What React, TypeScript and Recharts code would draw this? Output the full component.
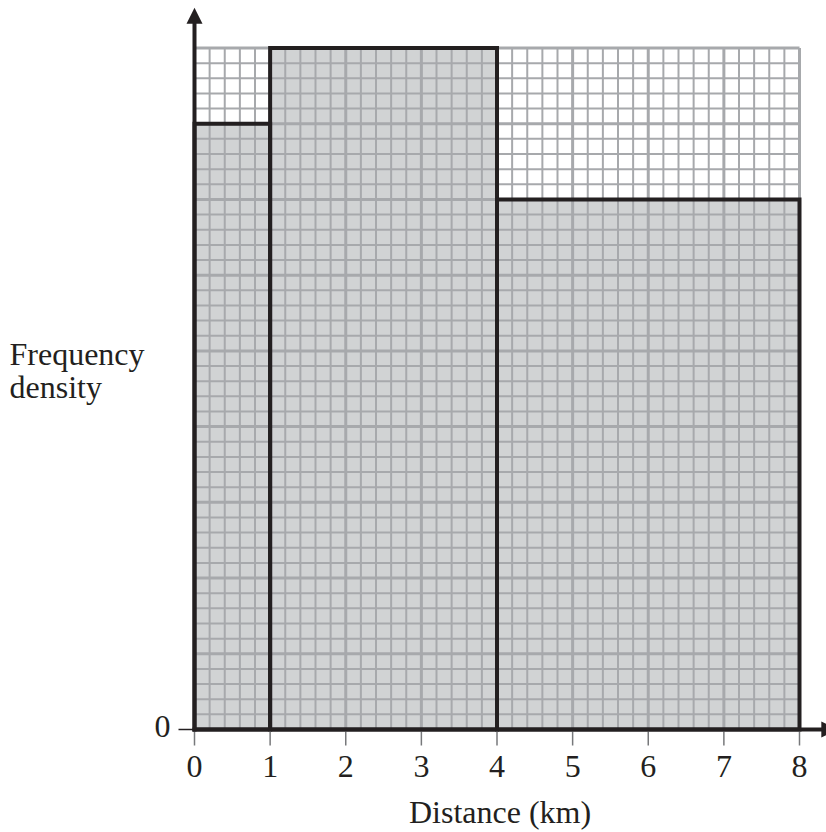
import React from "react";
import {
	ComposedChart,
	XAxis,
	YAxis,
	ReferenceArea,
	ReferenceLine,
} from "recharts";

// histogram classes (km) and their frequency densities
const classStarts = [0, 1, 4];
const classEnds = [1, 4, 8];
const densities = [8, 9, 7];

const xTicks = [0, 1, 2, 3, 4, 5, 6, 7, 8];
const yTicks = [0];
const xDomain = [0, 8];
const yDomain = [0, 9];
const xTitle = "Distance (km)";
const yTitleLines = ["Frequency", "density"];

const FONT = "'Liberation Serif', 'Times New Roman', serif";
const INK = "#231f20";
const BAR_FILL = "#d1d3d4";
const GRID = "#a7a9ac";

// graph paper: 5 small squares per unit on both axes
const gridX = Array.from({ length: xDomain[1] * 5 + 1 }, (_, i) => i / 5);
const gridY = Array.from({ length: yDomain[1] * 5 + 1 }, (_, i) => i / 5);
const isMajor = (v: number) => Math.abs(v - Math.round(v)) < 1e-6;

const histData = classStarts.map((start, i) => ({
	start,
	end: classEnds[i],
	density: densities[i],
}));

const ArrowLine = (props: any) => {
	const { x1, y1, x2, y2 } = props;
	const len = Math.hypot(x2 - x1, y2 - y1) || 1;
	const ux = (x2 - x1) / len;
	const uy = (y2 - y1) / len;
	const head = 16;
	const half = 8;
	const bx = x2 - ux * head;
	const by = y2 - uy * head;
	const pts = [
		`${x2},${y2}`,
		`${bx - uy * half},${by + ux * half}`,
		`${bx + uy * half},${by - ux * half}`,
	].join(" ");
	return (
		<g>
			<line
				x1={x1}
				y1={y1}
				x2={bx + ux}
				y2={by + uy}
				stroke={INK}
				strokeWidth={4}
				strokeLinecap="square"
			/>
			<polygon points={pts} fill={INK} />
		</g>
	);
};

const YTick = (props: any) => {
	const { x, y, payload } = props;
	return (
		<text
			x={x}
			y={y}
			dy={7.5}
			textAnchor="end"
			fontSize={32}
			fontFamily={FONT}
			fill={INK}
		>
			{payload.value}
		</text>
	);
};

const XTitle = (props: any) => {
	const { viewBox } = props;
	return (
		<text
			x={viewBox.x + viewBox.width / 2 + 3}
			y={viewBox.y + 93.5}
			textAnchor="middle"
			fontSize={32}
			fontFamily={FONT}
			fill={INK}
		>
			{xTitle}
		</text>
	);
};

const YTitle = () => (
	<g>
		{yTitleLines.map((line, i) => (
			<text
				key={line}
				x={9.5}
				y={365 + i * 33}
				fontSize={32}
				fontFamily={FONT}
				fill={INK}
			>
				{line}
			</text>
		))}
	</g>
);

export default function App() {
	return (
		<div style={{ position: "absolute", left: 0, top: 0, width: 826, height: 832, background: "#fff" }}>
			<ComposedChart
				width={826}
				height={832}
				data={histData}
				margin={{ top: 48, right: 26.5, bottom: 42.5, left: 134.5 }}
			>
				{histData.map((d) => (
					<ReferenceArea
						key={`fill-${d.start}`}
						x1={d.start}
						x2={d.end}
						y1={0}
						y2={d.density}
						fill={BAR_FILL}
						fillOpacity={1}
						stroke="none"
						ifOverflow="visible"
						zIndex={-300}
					/>
				))}
				{gridX.map((v) => (
					<ReferenceLine
						key={`gx-${v}`}
						x={v}
						stroke={GRID}
						strokeWidth={isMajor(v) ? 3 : 2}
						zIndex={-200}
					/>
				))}
				{gridY.map((v) => (
					<ReferenceLine
						key={`gy-${v}`}
						y={v}
						stroke={GRID}
						strokeWidth={isMajor(v) ? 3 : 2}
						zIndex={-200}
					/>
				))}
				<XAxis
					type="number"
					dataKey="start"
					domain={xDomain}
					ticks={xTicks}
					allowDataOverflow
					height={60}
					axisLine={false}
					tickLine={{ stroke: "#77787b", strokeWidth: 1.5 }}
					tickSize={16}
					tickMargin={9}
					tick={{ fontSize: 32, fill: INK, fontFamily: FONT }}
					label={{ content: XTitle }}
				/>
				<YAxis
					type="number"
					domain={yDomain}
					ticks={yTicks}
					allowDataOverflow
					width={60}
					axisLine={false}
					tickLine={{ stroke: INK, strokeWidth: 1.5 }}
					tickSize={16}
					tickMargin={8}
					tick={YTick}
					label={{ content: YTitle }}
				/>
				{histData.map((d) => (
					<ReferenceArea
						key={`edge-${d.start}`}
						x1={d.start}
						x2={d.end}
						y1={0}
						y2={d.density}
						fill="none"
						fillOpacity={0}
						stroke={INK}
						strokeWidth={4}
						ifOverflow="visible"
						zIndex={300}
					/>
				))}
				<ReferenceLine
					segment={[
						{ x: 0, y: 0 },
						{ x: 8.5, y: 0 },
					]}
					ifOverflow="visible"
					shape={ArrowLine}
					zIndex={500}
				/>
				<ReferenceLine
					segment={[
						{ x: 0, y: 0 },
						{ x: 0, y: 9.53 },
					]}
					ifOverflow="visible"
					shape={ArrowLine}
					zIndex={500}
				/>
			</ComposedChart>
		</div>
	);
}
